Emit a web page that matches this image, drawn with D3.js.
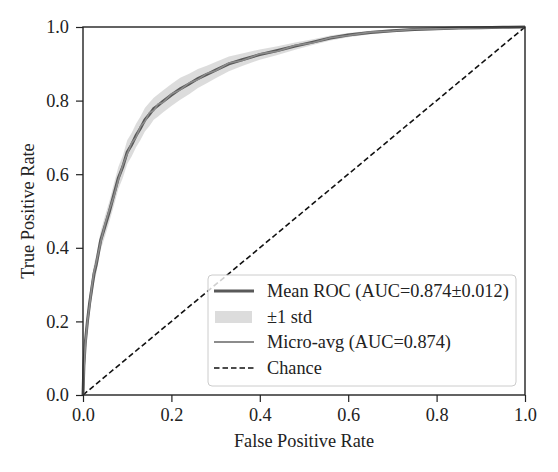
<!DOCTYPE html>
<html>
<head>
<meta charset="utf-8">
<script src="https://cdn.jsdelivr.net/npm/d3@7"></script>
<style>
  body { margin: 0; background: #fff; }
  svg text { font-family: "Liberation Serif", "DejaVu Serif", serif !important; fill: #222; }
</style>
</head>
<body>
<script>
// chart size
var w = 558;
var h = 472;
var margin = {top: 27, right: 33, bottom: 77, left: 83};
var fontSize = 18.3;

// data
var fpr = [0, 0.002, 0.005, 0.01, 0.015, 0.02, 0.025, 0.03, 0.04, 0.05, 0.06, 0.07, 0.08, 0.09, 0.10,
           0.11, 0.12, 0.13, 0.14, 0.15, 0.16, 0.17, 0.18, 0.20, 0.22, 0.24, 0.26, 0.28, 0.30,
           0.33, 0.36, 0.40, 0.44, 0.48, 0.52, 0.56, 0.60, 0.65, 0.70, 0.75, 0.80, 0.85, 0.90, 0.95, 1.0];
var meanTpr = [0, 0.08, 0.14, 0.20, 0.25, 0.29, 0.33, 0.355, 0.42, 0.46, 0.50, 0.545, 0.59, 0.62, 0.66,
               0.68, 0.705, 0.725, 0.748, 0.762, 0.778, 0.787, 0.797, 0.815, 0.832, 0.845, 0.86, 0.871, 0.883,
               0.9, 0.911, 0.925, 0.936, 0.948, 0.959, 0.97, 0.978, 0.985, 0.99, 0.993, 0.995, 0.997, 0.998, 0.999, 1.0];
var stdTpr = [0, 0.02, 0.025, 0.025, 0.025, 0.025, 0.025, 0.025, 0.025, 0.028, 0.028, 0.03, 0.03, 0.03, 0.032,
              0.032, 0.032, 0.032, 0.032, 0.032, 0.03, 0.03, 0.03, 0.03, 0.03, 0.028, 0.026, 0.024, 0.022,
              0.02, 0.017, 0.014, 0.012, 0.01, 0.008, 0.007, 0.006, 0.005, 0.004, 0.003, 0.003, 0.002, 0.002, 0.001, 0];
var microTpr = [0, 0.07, 0.13, 0.2, 0.245, 0.295, 0.335, 0.36, 0.415, 0.465, 0.505, 0.54, 0.585, 0.625, 0.655,
                0.685, 0.7, 0.73, 0.743, 0.767, 0.773, 0.791, 0.794, 0.818, 0.829, 0.848, 0.857, 0.874, 0.881,
                0.902, 0.909, 0.927, 0.934, 0.95, 0.957, 0.971, 0.977, 0.986, 0.989, 0.994, 0.995, 0.997, 0.998, 0.999, 1.0];
var ticks = [0, 0.2, 0.4, 0.6, 0.8, 1.0];
var legendLabels = ["Mean ROC (AUC=0.874\u00b10.012)", "\u00b11 std", "Micro-avg (AUC=0.874)", "Chance"];

var data = fpr.map(function(f, i) {
  return {x: f, y: meanTpr[i], lo: Math.max(0, meanTpr[i] - stdTpr[i]),
          hi: Math.min(1, meanTpr[i] + stdTpr[i]), m: microTpr[i]};
});

var xScale = d3.scaleLinear().domain([0, 1]).range([margin.left, w - margin.right]);
var yScale = d3.scaleLinear().domain([0, 1]).range([h - margin.bottom, margin.top]);

var svg = d3.select("body").append("svg")
    .attr("width", w)
    .attr("height", h);

// std band
svg.append("path")
    .datum(data)
    .attr("fill", "#d6d6d6")
    .attr("opacity", 0.85)
    .attr("d", d3.area()
      .x(function(d) { return xScale(d.x); })
      .y0(function(d) { return yScale(d.lo); })
      .y1(function(d) { return yScale(d.hi); }));

// chance line
svg.append("path")
    .datum([0, 1])
    .attr("fill", "none")
    .attr("stroke", "#111")
    .attr("stroke-width", 1.6)
    .attr("stroke-dasharray", "5.5,3")
    .attr("d", d3.line()
      .x(function(d) { return xScale(d); })
      .y(function(d) { return yScale(d); }));

// mean roc
svg.append("path")
    .datum(data)
    .attr("fill", "none")
    .attr("stroke", "#595959")
    .attr("stroke-width", 3)
    .attr("d", d3.line()
      .x(function(d) { return xScale(d.x); })
      .y(function(d) { return yScale(d.y); }));

// micro average
svg.append("path")
    .datum(data)
    .attr("fill", "none")
    .attr("stroke", "#8c8c8c")
    .attr("stroke-width", 1.6)
    .attr("d", d3.line()
      .x(function(d) { return xScale(d.x); })
      .y(function(d) { return yScale(d.m); }));

// axes
var xAxis = d3.axisBottom(xScale).tickValues(ticks).tickFormat(d3.format(".1f"))
    .tickSizeInner(7).tickSizeOuter(0).tickPadding(6);
var yAxis = d3.axisLeft(yScale).tickValues(ticks).tickFormat(d3.format(".1f"))
    .tickSizeInner(7).tickSizeOuter(0).tickPadding(7);

svg.append("g")
    .attr("transform", "translate(0," + (h - margin.bottom) + ")")
    .call(xAxis);
svg.append("g")
    .attr("transform", "translate(" + margin.left + ",0)")
    .call(yAxis);

svg.selectAll(".tick text")
    .style("font-family", "'Liberation Serif', serif")
    .style("font-size", fontSize + "px")
    .attr("fill", "#222");
svg.selectAll(".tick line").attr("stroke", "#222").attr("stroke-width", 1.2);
svg.selectAll(".domain").remove();

// frame
svg.append("rect")
    .attr("x", xScale(0))
    .attr("y", yScale(1))
    .attr("width", xScale(1) - xScale(0))
    .attr("height", yScale(0) - yScale(1))
    .attr("fill", "none")
    .attr("stroke", "#222")
    .attr("stroke-width", 1.4);

// axis titles
svg.append("text")
    .attr("x", (xScale(0) + xScale(1)) / 2)
    .attr("y", 447)
    .attr("text-anchor", "middle")
    .style("font-size", fontSize + "px")
    .text("False Positive Rate");
svg.append("text")
    .attr("transform", "translate(34," + ((yScale(0) + yScale(1)) / 2) + ") rotate(-90)")
    .attr("text-anchor", "middle")
    .style("font-size", fontSize + "px")
    .text("True Positive Rate");

// legend
var lg = svg.append("g").attr("transform", "translate(208,275)");
lg.append("rect")
    .attr("width", 308)
    .attr("height", 111)
    .attr("rx", 4)
    .attr("fill", "#fff")
    .attr("fill-opacity", 0.8)
    .attr("stroke", "#cccccc");

var rowY = [16, 42, 67, 93];
var row = lg.selectAll("g.row")
    .data(legendLabels)
    .enter()
    .append("g")
    .attr("transform", function(d, i) { return "translate(0," + rowY[i] + ")"; });

row.append("text")
    .attr("x", 59)
    .attr("dy", "0.33em")
    .style("font-size", fontSize + "px")
    .text(function(d) { return d; });

lg.append("line").attr("x1", 6).attr("x2", 46).attr("y1", rowY[0]).attr("y2", rowY[0])
    .attr("stroke", "#595959").attr("stroke-width", 3);
lg.append("rect").attr("x", 7).attr("y", rowY[1] - 6).attr("width", 37).attr("height", 12)
    .attr("fill", "#d6d6d6").attr("opacity", 0.85);
lg.append("line").attr("x1", 6).attr("x2", 46).attr("y1", rowY[2]).attr("y2", rowY[2])
    .attr("stroke", "#8c8c8c").attr("stroke-width", 2);
lg.append("line").attr("x1", 6).attr("x2", 46).attr("y1", rowY[3]).attr("y2", rowY[3])
    .attr("stroke", "#111").attr("stroke-width", 1.6).attr("stroke-dasharray", "5.5,3");
</script>
</body>
</html>
